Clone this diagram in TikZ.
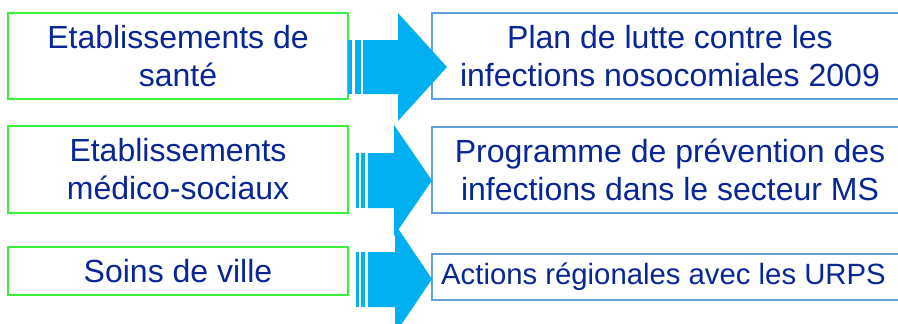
\documentclass[tikz,border=0pt]{standalone}
\usepackage{fontspec}
\setmainfont{Liberation Sans}
\definecolor{txtblue}{RGB}{8,38,150}
\definecolor{boxgreen}{RGB}{60,240,60}
\definecolor{boxblue}{RGB}{100,160,215}
\definecolor{arrowblue}{RGB}{0,176,240}
\begin{document}
\begin{tikzpicture}[x=1pt,y=-1pt,
  srcbox/.style={draw=boxgreen,line width=1.2pt,minimum width=340pt,inner sep=0pt,
    align=center,text=txtblue,font=\fontsize{32}{38}\selectfont},
  dstbox/.style={draw=boxblue,line width=1.2pt,minimum width=476pt,inner sep=0pt,
    align=center,text=txtblue,font=\fontsize{32}{38}\selectfont},
  blockarrow/.style={fill=arrowblue,draw=none}]
\useasboundingbox (0,0) rectangle (898,324);
\fill[white] (0,0) rectangle (898,324);

% source boxes
\node[srcbox,minimum height=86pt] (s1) at (178,56) {Etablissements de\\sant\'e};
\node[srcbox,minimum height=87pt] (s2) at (178,169.5) {Etablissements\\m\'edico-sociaux};
\node[srcbox,minimum height=48pt] (s3) at (178,271) {Soins de ville};

% target boxes (they run past the right edge of the page)
\node[dstbox,minimum height=86pt] (d1) at (670,56) {Plan de lutte contre les\\infections nosocomiales 2009};
\node[dstbox,minimum height=86pt] (d2) at (670,170) {Programme de pr\'evention des\\infections dans le secteur MS};
\node[dstbox,minimum height=46pt,font=\fontsize{29.3}{35}\selectfont] (d3) at (670,277)
  {\hspace*{-13pt}Actions r\'egionales avec les URPS};

% striped block arrows
\fill[blockarrow] (348,40) rectangle (352,94);
\fill[blockarrow] (355,40) rectangle (361,94);
\fill[blockarrow] (363,40) -- (398,40) -- (398,13) -- (447,67) -- (398,121) -- (398,94) -- (363,94) -- cycle;

\fill[blockarrow] (356,153) rectangle (359,208);
\fill[blockarrow] (361,153) rectangle (365,208);
\fill[blockarrow] (368,153) -- (394,153) -- (394,125) -- (432,180.5) -- (394,236) -- (394,208) -- (368,208) -- cycle;

\fill[blockarrow] (356,252) rectangle (359,307);
\fill[blockarrow] (361,252) rectangle (365,307);
\fill[blockarrow] (368,252) -- (395,252) -- (395,224) -- (432,279) -- (395,334) -- (395,307) -- (368,307) -- cycle;
\end{tikzpicture}
\end{document}
